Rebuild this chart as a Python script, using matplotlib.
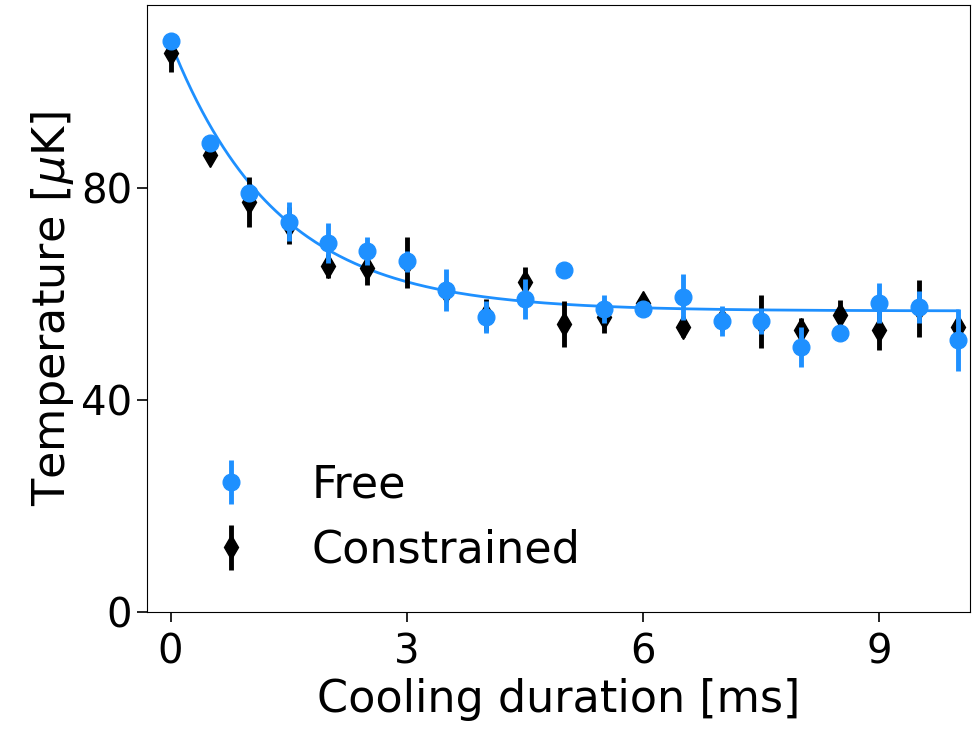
import numpy as np
import matplotlib.pyplot as plt

# cooling duration [ms]
t = [0, 0.5, 1, 1.5, 2, 2.5, 3, 3.5, 4, 4.5, 5, 5.5, 6, 6.5, 7, 7.5, 8, 8.5, 9, 9.5, 10]

free_T = [107.8, 88.5, 79.0, 73.6, 69.6, 68.1, 66.2, 60.8, 55.6, 59.1, 64.5,
          57.2, 57.2, 59.4, 54.9, 54.9, 50.0, 52.7, 58.3, 57.6, 51.3]
free_err = [1.5, 1.5, 1.5, 3.7, 3.8, 2.7, 2.0, 4.0, 3.0, 3.8, 1.0,
            2.7, 1.0, 4.4, 2.8, 2.5, 3.8, 1.0, 3.8, 3.0, 5.9]

con_T = [105.5, 86.2, 77.3, 73.0, 65.3, 64.9, 66.0, 60.5, 56.0, 62.3, 54.3,
         55.7, 58.3, 53.8, 55.0, 54.8, 53.2, 56.0, 53.2, 57.3, 53.8]
con_err = [3.6, 1.5, 4.7, 3.5, 2.3, 3.2, 4.8, 2.0, 3.0, 2.8, 4.3,
           3.1, 1.5, 2.0, 2.0, 5.0, 2.3, 2.9, 3.8, 5.4, 1.5]

# exponential fit parameters (amplitude, time constant, offset)
fit_A = 50.7
fit_tau = 1.35
fit_C = 56.8

plt.rcParams['font.family'] = ['DejaVu Sans']

fig = plt.figure(figsize=(9.73, 7.29), dpi=100)
ax = fig.add_axes([0.151, 0.1605, 0.846, 0.8325])

tt = np.linspace(0, 10, 300)
ax.plot(tt, fit_A * np.exp(-tt / fit_tau) + fit_C, color='dodgerblue', lw=2, zorder=1)

ax.errorbar(t, con_T, yerr=con_err, fmt='d', color='black', ms=12,
            elinewidth=3.5, capsize=0, label='Constrained', zorder=2)
ax.errorbar(t, free_T, yerr=free_err, fmt='o', color='dodgerblue', ms=12,
            elinewidth=3.5, capsize=0, label='Free', zorder=3)

ax.set_xlim(-0.3, 10.15)
ax.set_ylim(0, 114.5)
ax.set_xticks([0, 3, 6, 9])
ax.set_yticks([0, 40, 80])
ax.tick_params(length=7, width=1.2, labelsize=29)
ax.tick_params(axis='x', pad=8)
ax.set_xlabel('Cooling duration [ms]', fontsize=32, labelpad=4)
ax.set_ylabel(r'Temperature [$\mu$K]', fontsize=32)

h, l = ax.get_legend_handles_labels()
ax.legend(h[::-1], l[::-1], loc='lower left', frameon=False, fontsize=32)

plt.savefig('out.png', dpi=100)
